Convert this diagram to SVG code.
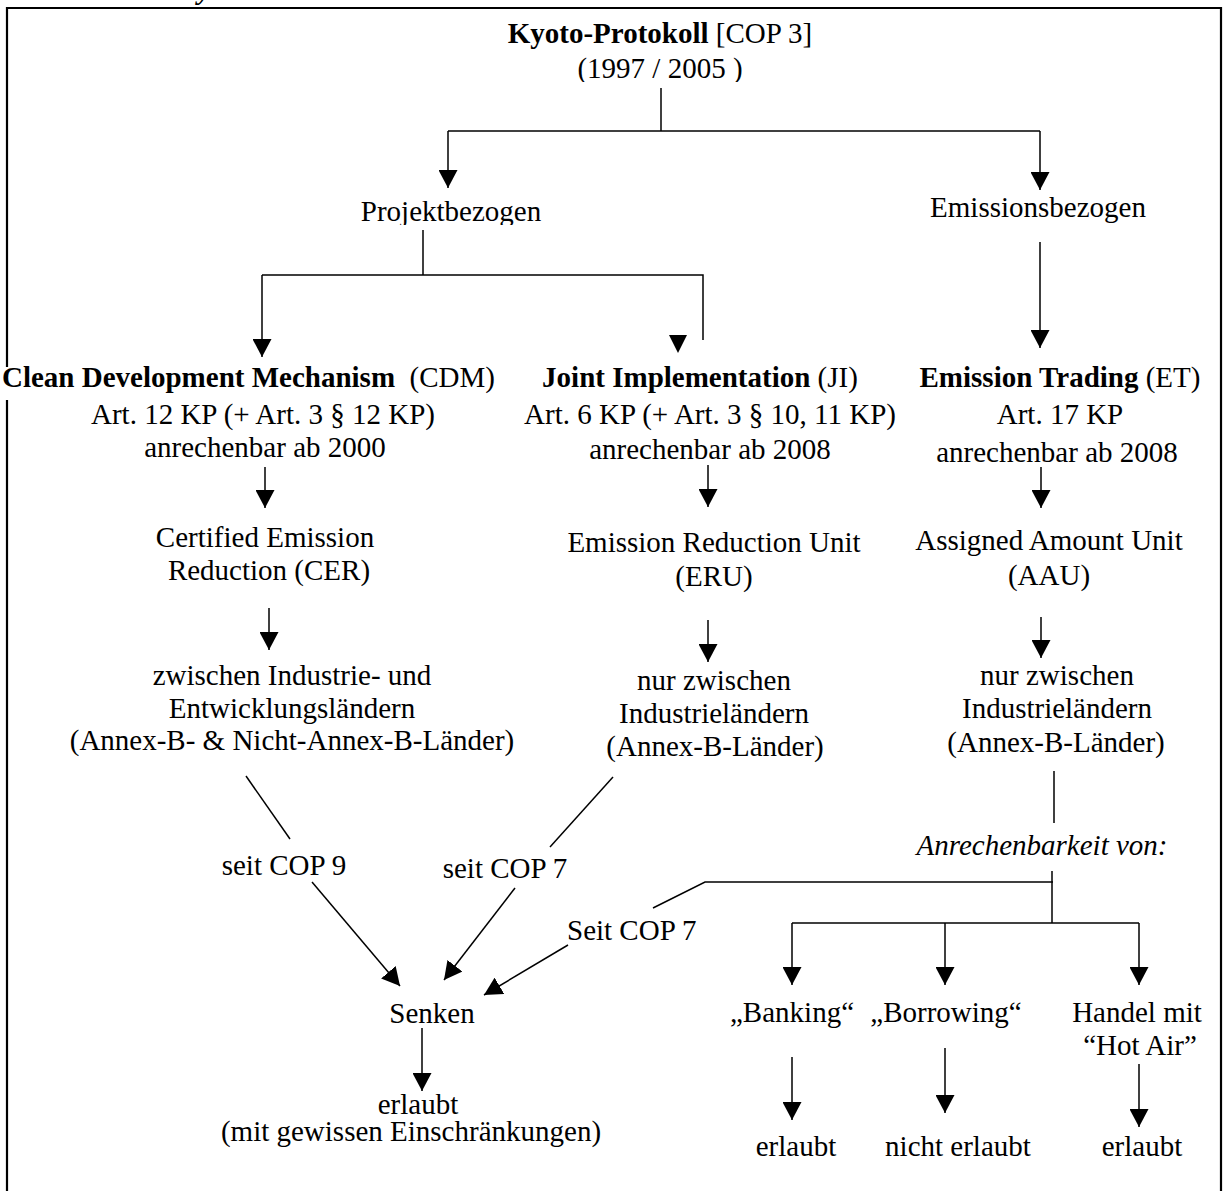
<svg xmlns="http://www.w3.org/2000/svg" width="1223" height="1191" viewBox="0 0 1223 1191">
<defs>
<style>
text{font-family:"Liberation Serif","Times New Roman",serif;font-size:29px;fill:#000}
.c{text-anchor:middle}
.b{font-weight:bold}
.i{font-style:italic}
.ln{stroke:#000;stroke-width:1.5;fill:none}
.ar{stroke:#000;stroke-width:1.5;fill:none;marker-end:url(#ah)}
.frame{stroke:#000;stroke-width:2.2;fill:none}
</style>
<marker id="ah" markerUnits="userSpaceOnUse" markerWidth="18" markerHeight="19" viewBox="0 0 18 19" refX="18" refY="9.5" orient="auto"><path d="M0,0 L18,9.5 L0,19 z" fill="#000"/></marker>
<clipPath id="clipYear"><rect x="500" y="50" width="320" height="32"/></clipPath>
<clipPath id="clipProj"><rect x="300" y="190" width="300" height="35"/></clipPath>
</defs>
<rect x="0" y="0" width="1223" height="1191" fill="#fff"/>
<text x="198" y="-1" class="b i">y</text>
<g id="frame">
<path class="frame" d="M7,367 V8 H1221 V1191"/>
<path class="frame" d="M7,400 V1191"/>
</g>
<g id="connectors">
<path class="ln" d="M661,88 V131"/>
<path class="ln" d="M448,131 H1040"/>
<path class="ar" d="M448,131 V188"/>
<path class="ar" d="M1040,131 V190"/>
<path class="ln" d="M423,230 V275"/>
<path class="ln" d="M262,275 H703 V340"/>
<path class="ar" d="M262,275 V357"/>
<polygon points="669,335 687,335 678,353" fill="#000"/>
<path class="ar" d="M1040,242 V348"/>
<path class="ar" d="M265,467 V508"/>
<path class="ar" d="M269,608 V650"/>
<path class="ar" d="M708,465 V507"/>
<path class="ar" d="M708,620 V662"/>
<path class="ar" d="M1041,467 V508"/>
<path class="ar" d="M1041,617 V658"/>
<path class="ln" d="M246,776 L290,839"/>
<path class="ar" d="M312,882 L400,986"/>
<path class="ln" d="M613,777 L550,847"/>
<path class="ar" d="M515,888 L444,980"/>
<path class="ln" d="M1054,771 V823"/>
<path class="ln" d="M1053,882 H705 L653,908"/>
<path class="ar" d="M568,945 L484,995"/>
<path class="ln" d="M1052,871 V923"/>
<path class="ln" d="M792,923 H1139"/>
<path class="ar" d="M792,923 V985"/>
<path class="ar" d="M945,923 V985"/>
<path class="ar" d="M1139,923 V985"/>
<path class="ar" d="M422,1028 V1091"/>
<path class="ar" d="M792,1057 V1120"/>
<path class="ar" d="M945,1048 V1113"/>
<path class="ar" d="M1139,1064 V1127"/>
</g>
<g id="kyoto">
<text x="660" y="43" class="c"><tspan class="b">Kyoto-Protokoll</tspan> [COP 3]</text>
<text x="660" y="78" class="c" clip-path="url(#clipYear)">(1997 / 2005 )</text>
</g>
<g id="projektbezogen">
<text x="451" y="221" class="c" clip-path="url(#clipProj)">Projektbezogen</text>
</g>
<g id="emissionsbezogen">
<text x="1038" y="217" class="c">Emissionsbezogen</text>
</g>
<g id="cdm">
<text x="2" y="387" xml:space="preserve"><tspan class="b">Clean Development Mechanism</tspan>  (CDM)</text>
<text x="263" y="424" class="c">Art. 12 KP (+ Art. 3 § 12 KP)</text>
<text x="265" y="457" class="c">anrechenbar ab 2000</text>
</g>
<g id="cer">
<text x="265" y="547" class="c">Certified Emission</text>
<text x="269" y="580" class="c">Reduction (CER)</text>
</g>
<g id="cdm-laender">
<text x="292" y="685" class="c">zwischen Industrie- und</text>
<text x="292" y="718" class="c">Entwicklungsländern</text>
<text x="292" y="750" class="c">(Annex-B- &amp; Nicht-Annex-B-Länder)</text>
</g>
<g id="ji">
<text x="700" y="387" class="c"><tspan class="b">Joint Implementation</tspan> (JI)</text>
<text x="710" y="424" class="c">Art. 6 KP (+ Art. 3 § 10, 11 KP)</text>
<text x="710" y="459" class="c">anrechenbar ab 2008</text>
</g>
<g id="eru">
<text x="714" y="552" class="c">Emission Reduction Unit</text>
<text x="714" y="586" class="c">(ERU)</text>
</g>
<g id="ji-laender">
<text x="714" y="690" class="c">nur zwischen</text>
<text x="714" y="723" class="c">Industrieländern</text>
<text x="715" y="756" class="c">(Annex-B-Länder)</text>
</g>
<g id="et">
<text x="1060" y="387" class="c"><tspan class="b">Emission Trading</tspan> (ET)</text>
<text x="1060" y="424" class="c">Art. 17 KP</text>
<text x="1057" y="462" class="c">anrechenbar ab 2008</text>
</g>
<g id="aau">
<text x="1049" y="550" class="c">Assigned Amount Unit</text>
<text x="1049" y="585" class="c">(AAU)</text>
</g>
<g id="et-laender">
<text x="1057" y="685" class="c">nur zwischen</text>
<text x="1057" y="718" class="c">Industrieländern</text>
<text x="1056" y="752" class="c">(Annex-B-Länder)</text>
</g>
<g id="anrechenbarkeit">
<text x="1042" y="855" class="c i">Anrechenbarkeit von:</text>
</g>
<g id="label-cop9"><text x="284" y="875" class="c">seit COP 9</text></g>
<g id="label-cop7"><text x="505" y="878" class="c">seit COP 7</text></g>
<g id="label-seit-cop7"><text x="567" y="940">Seit COP 7</text></g>
<g id="senken">
<text x="432" y="1023" class="c">Senken</text>
</g>
<g id="senken-erlaubt">
<text x="418" y="1114" class="c">erlaubt</text>
<text x="411" y="1141" class="c">(mit gewissen Einschränkungen)</text>
</g>
<g id="banking"><text x="792" y="1022" class="c">„Banking“</text></g>
<g id="borrowing"><text x="946" y="1022" class="c">„Borrowing“</text></g>
<g id="hotair">
<text x="1137" y="1022" class="c">Handel mit</text>
<text x="1140" y="1055" class="c">“Hot Air”</text>
</g>
<g id="banking-erlaubt"><text x="796" y="1156" class="c">erlaubt</text></g>
<g id="borrowing-nicht"><text x="958" y="1156" class="c">nicht erlaubt</text></g>
<g id="hotair-erlaubt"><text x="1142" y="1156" class="c">erlaubt</text></g>
</svg>
